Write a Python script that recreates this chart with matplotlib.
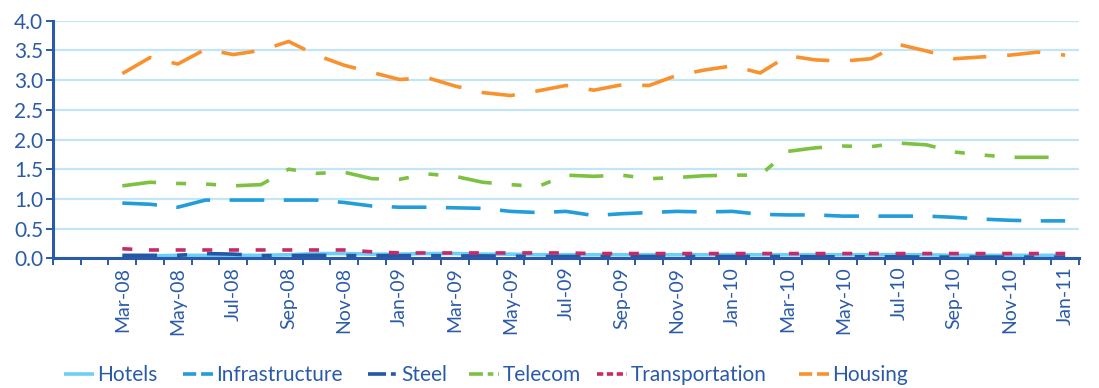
import matplotlib
matplotlib.use("Agg")
import matplotlib.pyplot as plt
from matplotlib.lines import Line2D
from matplotlib.ticker import FixedLocator, MultipleLocator

plt.rcParams['font.family'] = ['Lato', 'DejaVu Sans']
plt.rcParams['lines.scale_dashes'] = False

# categories: Jan-08 .. Jan-11 (first two have no data)
categories = ['Jan-08', 'Feb-08', 'Mar-08', 'Apr-08', 'May-08', 'Jun-08', 'Jul-08', 'Aug-08',
              'Sep-08', 'Oct-08', 'Nov-08', 'Dec-08', 'Jan-09', 'Feb-09', 'Mar-09', 'Apr-09',
              'May-09', 'Jun-09', 'Jul-09', 'Aug-09', 'Sep-09', 'Oct-09', 'Nov-09', 'Dec-09',
              'Jan-10', 'Feb-10', 'Mar-10', 'Apr-10', 'May-10', 'Jun-10', 'Jul-10', 'Aug-10',
              'Sep-10', 'Oct-10', 'Nov-10', 'Dec-10', 'Jan-11']
tick_labels = ['Mar-08', 'May-08', 'Jul-08', 'Sep-08', 'Nov-08', 'Jan-09', 'Mar-09', 'May-09',
               'Jul-09', 'Sep-09', 'Nov-09', 'Jan-10', 'Mar-10', 'May-10', 'Jul-10', 'Sep-10',
               'Nov-10', 'Jan-11']
first_data = 'Mar-08'

# series values Mar-08 .. Jan-11 (35 months)
hotels = [0.00, 0.04, 0.05, 0.05, 0.05, 0.05, 0.06, 0.08, 0.08, 0.07, 0.07, 0.08, 0.08, 0.07,
          0.07, 0.06, 0.06, 0.06, 0.06, 0.06, 0.06, 0.06, 0.06, 0.06, 0.06, 0.06, 0.06, 0.06,
          0.06, 0.06, 0.05, 0.05, 0.05, 0.05, 0.05]
infrastructure = [0.93, 0.91, 0.86, 0.98, 0.98, 0.98, 0.98, 0.98, 0.94, 0.88, 0.86, 0.86, 0.85,
                  0.84, 0.79, 0.77, 0.79, 0.72, 0.75, 0.77, 0.79, 0.78, 0.79, 0.74, 0.73, 0.73,
                  0.71, 0.71, 0.71, 0.71, 0.69, 0.66, 0.64, 0.63, 0.63]
steel = [0.05, 0.05, 0.05, 0.08, 0.07, 0.045, 0.045, 0.05, 0.045, 0.045, 0.045, 0.045, 0.04,
         0.04, 0.035, 0.03, 0.03, 0.03, 0.03, 0.03, 0.03, 0.03, 0.03, 0.03, 0.03, 0.025, 0.025,
         0.025, 0.025, 0.02, 0.02, 0.02, 0.02, 0.02, 0.02]
telecom = [1.22, 1.28, 1.26, 1.25, 1.22, 1.24, 1.50, 1.43, 1.45, 1.34, 1.33, 1.42, 1.38, 1.28,
           1.24, 1.21, 1.40, 1.38, 1.40, 1.34, 1.36, 1.39, 1.40, 1.40, 1.80, 1.86, 1.89, 1.88,
           1.94, 1.91, 1.79, 1.74, 1.70, 1.70, 1.70]
transportation = [0.16, 0.14, 0.14, 0.14, 0.14, 0.14, 0.14, 0.14, 0.14, 0.11, 0.09, 0.09, 0.09,
                  0.09, 0.09, 0.09, 0.09, 0.08, 0.08, 0.08, 0.08, 0.08, 0.08, 0.08, 0.08, 0.08,
                  0.08, 0.08, 0.08, 0.08, 0.08, 0.08, 0.08, 0.08, 0.08]
housing = [3.11, 3.38, 3.27, 3.52, 3.43, 3.50, 3.65, 3.42, 3.25, 3.13, 3.01, 3.04, 2.90, 2.79,
           2.74, 2.82, 2.91, 2.83, 2.92, 2.91, 3.08, 3.17, 3.24, 3.12, 3.41, 3.34, 3.32, 3.36,
           3.60, 3.49, 3.36, 3.39, 3.42, 3.47, 3.42]

series_names = ['Hotels', 'Infrastructure', 'Steel', 'Telecom', 'Transportation', 'Housing']

BLUE = '#2B5BA8'
GRID = '#C3E6F7'

fig = plt.figure(figsize=(10.99, 3.88), dpi=100)
ax = fig.add_axes([53 / 1099, 1 - 258.3 / 388, (1079 - 53) / 1099, (258.3 - 20.7) / 388])

start = categories.index(first_data)
x = list(range(start, start + len(housing)))

# (values, colour, line style on chart, line style in legend key)
styles = [
    (hotels, '#6DCFF6', '-', '-'),
    (infrastructure, '#239DDA', (0, (25, 14)), (0, (9.5, 3.5))),
    (steel, '#2457A6', (0, (25, 14.4, 7.2, 14.4)), (0, (13, 3.5, 3.5, 3.5))),
    (telecom, '#7DC142', (0, (24.5, 14.4, 7.2, 14.4, 7.2, 14.4)), (0, (10, 3.5, 4, 3.5))),
    (transportation, '#C92A65', (0, (7.2, 12)), (0, (4.5, 2.6))),
    (housing, '#F7922E', (0, (24, 15)), (0, (9.5, 3.5))),
]
proxies = []
for name, (vals, col, ls, lls) in zip(series_names, styles):
    ax.plot(x, vals, color=col, lw=2.6, linestyle=ls, label=name,
            dash_capstyle='butt', solid_capstyle='butt')
    proxies.append(Line2D([], [], color=col, lw=2.6, linestyle=lls,
                          dash_capstyle='butt', solid_capstyle='butt'))

ax.set_xlim(-0.5, len(categories) - 0.5)
ax.set_ylim(0, 4.0)
ax.yaxis.set_major_locator(MultipleLocator(0.5))
ax.yaxis.set_major_formatter(matplotlib.ticker.FormatStrFormatter('%.1f'))
ax.grid(axis='y', color=GRID, lw=1.6)
ax.set_axisbelow(True)

label_pos = [categories.index(t) for t in tick_labels]
ax.xaxis.set_major_locator(FixedLocator(label_pos))
ax.set_xticklabels(tick_labels, rotation=90, color=BLUE, fontsize=14)
ax.xaxis.set_minor_locator(FixedLocator([i - 0.5 for i in range(len(categories) + 1)]))
ax.tick_params(axis='x', which='major', length=0, pad=6)
ax.tick_params(axis='x', which='minor', length=5, width=1.4, color=BLUE)
ax.tick_params(axis='y', which='major', length=5, width=1.4, color=BLUE, labelcolor=BLUE,
               labelsize=15, pad=2)

for s in ['top', 'right']:
    ax.spines[s].set_visible(False)
for s in ['left', 'bottom']:
    ax.spines[s].set_color(BLUE)
    ax.spines[s].set_linewidth(2.2)

# legend entries placed individually (uneven spacing as in the original)
legend_x = [64, 183, 368, 469, 597, 799]
for h, name, lx in zip(proxies, series_names, legend_x):
    leg = fig.legend([h], [name], loc='center left', bbox_to_anchor=(lx / 1099, 1 - 375 / 388),
                     frameon=False, fontsize=15, handlelength=1.45, handletextpad=0.15,
                     borderpad=0, borderaxespad=0)
    for t in leg.get_texts():
        t.set_color(BLUE)

fig.savefig('out.png', dpi=100)
